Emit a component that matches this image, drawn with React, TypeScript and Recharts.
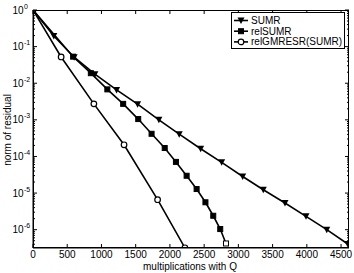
import React from "react";
import { LineChart, Line, XAxis, YAxis } from "recharts";

// multiplications with Q vs. norm of residual
const sumrX = [0, 304, 601, 904, 1221, 1528, 1839, 2136, 2449, 2756, 3063, 3364, 3681, 3988, 4291, 4598];
const sumrY = [1, 0.195, 0.0513, 0.0177, 0.00658, 0.00268, 0.001, 4.07e-4, 1.62e-4, 6.9e-5, 2.84e-5, 1.23e-5, 5.35e-6, 2.31e-6, 1.0e-6, 4.07e-7];

const relSumrX = [0, 586, 845, 1086, 1317, 1537, 1732, 1924, 2088, 2244, 2390, 2519, 2633, 2735, 2819];
const relSumrY = [1, 0.0532, 0.0188, 0.00679, 0.00273, 0.00105, 4.16e-4, 1.7e-4, 7.1e-5, 2.97e-5, 1.29e-5, 5.6e-6, 2.4e-6, 1.04e-6, 4.2e-7];

const relGmresrX = [0, 411, 889, 1330, 1820, 2219];
const relGmresrY = [1, 0.0522, 0.00273, 2.08e-4, 6.6e-6, 3.2e-7];

const xTicks = [0, 500, 1000, 1500, 2000, 2500, 3000, 3500, 4000, 4500];
const yDecades = [-7, -6, -5, -4, -3, -2, -1];
const mantissas = [1, 2, 3, 4, 5, 6, 7, 8, 9];

const X_MAX = 4616;
const Y_MIN = 3.16e-7;

// plot box (inner area) edges, matching the margins below
const PLOT_TOP = 10;
const PLOT_RIGHT = 349;

const yTicks = [
  ...yDecades.flatMap((d) => mantissas.map((m) => m * Math.pow(10, d))),
  1,
].filter((v) => v >= Y_MIN && v <= 1);

const toPoints = (xs: number[], ys: number[]) => xs.map((x, i) => ({ x, y: ys[i] }));

const FONT = "'Liberation Sans', Arial, Helvetica, sans-serif";

const isMajor = (v: number) => {
  const l = Math.log10(v);
  return Math.abs(l - Math.round(l)) < 1e-6;
};

const BottomTick = (props: any) => {
  const { x, y, payload } = props;
  return (
    <g>
      <line x1={x} y1={y} x2={x} y2={y - 4} stroke="#000" />
      <line x1={x} y1={PLOT_TOP} x2={x} y2={PLOT_TOP + 4} stroke="#000" />
      <text x={x} y={y + 10.3} textAnchor="middle" fontSize={10} fill="#000" fontFamily={FONT}>
        {payload.value}
      </text>
    </g>
  );
};

const LeftTick = (props: any) => {
  const { x, y, payload } = props;
  const v = payload.value as number;
  const major = isMajor(v);
  const e = Math.round(Math.log10(v));
  const len = major ? 4 : 2;
  return (
    <g>
      <line x1={x} y1={y} x2={x + len} y2={y} stroke="#000" />
      <line x1={PLOT_RIGHT} y1={y} x2={PLOT_RIGHT - len} y2={y} stroke="#000" />
      {major && (
        <text x={23.5} y={y + 3.5} textAnchor="end" fontSize={10} fill="#000" fontFamily={FONT}>
          10
        </text>
      )}
      {major && (
        <text x={24} y={y - 1.5} fontSize={7} fill="#000" fontFamily={FONT}>
          {e}
        </text>
      )}
    </g>
  );
};

const Tri = ({ cx, cy }: { cx: number; cy: number }) => (
  <polygon points={`${cx - 3.5},${cy - 3} ${cx + 3.5},${cy - 3} ${cx},${cy + 3.5}`} fill="#000" />
);
const Sq = ({ cx, cy, open }: { cx: number; cy: number; open?: boolean }) => (
  <rect x={cx - 2.5} y={cy - 2.5} width={5} height={5} fill={open ? "#fff" : "#000"} stroke="#000" strokeWidth={1} />
);
const Circ = ({ cx, cy }: { cx: number; cy: number }) => (
  <circle cx={cx} cy={cy} r={2.8} fill="#fff" stroke="#000" strokeWidth={1.2} />
);

const sumrDot = (p: any) => <Tri key={`t${p.index}`} cx={p.cx} cy={p.cy} />;
const relSumrDot = (p: any) => (
  <Sq key={`s${p.index}`} cx={p.cx} cy={p.cy} open={p.index === relSumrX.length - 1} />
);
const gmresrDot = (p: any) => <Circ key={`c${p.index}`} cx={p.cx} cy={p.cy} />;

const legendRows = [
  { name: "SUMR", icon: "tri" },
  { name: "relSUMR", icon: "sq" },
  { name: "relGMRESR(SUMR)", icon: "circ" },
];

const LegendBox = () => (
  <svg width={114} height={37} style={{ display: "block" }}>
    <rect x={0.5} y={0.5} width={113} height={36} fill="#fff" stroke="#000" />
    {legendRows.map((r, i) => {
      const cy = 8.5 + i * 10.7;
      return (
        <g key={r.name}>
          <line x1={3} y1={cy} x2={17} y2={cy} stroke="#000" strokeWidth={1.6} />
          {r.icon === "tri" && <Tri cx={10} cy={cy} />}
          {r.icon === "sq" && <Sq cx={10} cy={cy} />}
          {r.icon === "circ" && <Circ cx={10} cy={cy} />}
          <text x={20} y={cy + 3.5} fontSize={10} fill="#000" fontFamily={FONT}>
            {r.name}
          </text>
        </g>
      );
    })}
  </svg>
);

export default function App() {
  return (
    <div style={{ position: "absolute", left: 0, top: 0, width: 354, height: 273, background: "#fff", fontFamily: FONT }}>
      <LineChart width={354} height={273} margin={{ top: 10, right: 5, bottom: 0, left: 0 }}>
        <XAxis
          dataKey="x"
          type="number"
          domain={[0, X_MAX]}
          ticks={xTicks}
          interval={0}
          allowDataOverflow
          height={25}
          tickSize={0}
          tickMargin={0}
          tick={<BottomTick />}
          axisLine={{ stroke: "#000" }}
          tickLine={false}
          label={{
            content: () => (
              <text x={190} y={269.5} textAnchor="middle" fontSize={10} fill="#000" fontFamily={FONT}>
                multiplications with Q
              </text>
            ),
          }}
        />
        <YAxis
          dataKey="y"
          scale="log"
          type="number"
          domain={[Y_MIN, 1]}
          ticks={yTicks}
          allowDataOverflow
          width={33}
          tickSize={0}
          tickMargin={0}
          interval={0}
          tick={<LeftTick />}
          axisLine={{ stroke: "#000" }}
          tickLine={false}
          label={{
            content: () => (
              <text
                transform="translate(11,130) rotate(-90)"
                textAnchor="middle"
                fontSize={10}
                fill="#000"
                fontFamily={FONT}
              >
                norm of residual
              </text>
            ),
          }}
        />
        <Line
          name="SUMR"
          data={toPoints(sumrX, sumrY)}
          dataKey="y"
          stroke="#000"
          strokeWidth={1.6}
          dot={sumrDot}
          isAnimationActive={false}
        />
        <Line
          name="relSUMR"
          data={toPoints(relSumrX, relSumrY)}
          dataKey="y"
          stroke="#000"
          strokeWidth={1.6}
          dot={relSumrDot}
          isAnimationActive={false}
        />
        <Line
          name="relGMRESR(SUMR)"
          data={toPoints(relGmresrX, relGmresrY)}
          dataKey="y"
          stroke="#000"
          strokeWidth={1.6}
          dot={gmresrDot}
          isAnimationActive={false}
        />
      </LineChart>
      <svg width={354} height={273} style={{ position: "absolute", left: 0, top: 0, pointerEvents: "none" }}>
        <rect x={33.5} y={10.5} width={315} height={237} fill="none" stroke="#000" />
      </svg>
      <div style={{ position: "absolute", left: 231, top: 12 }}>
        <LegendBox />
      </div>
    </div>
  );
}
